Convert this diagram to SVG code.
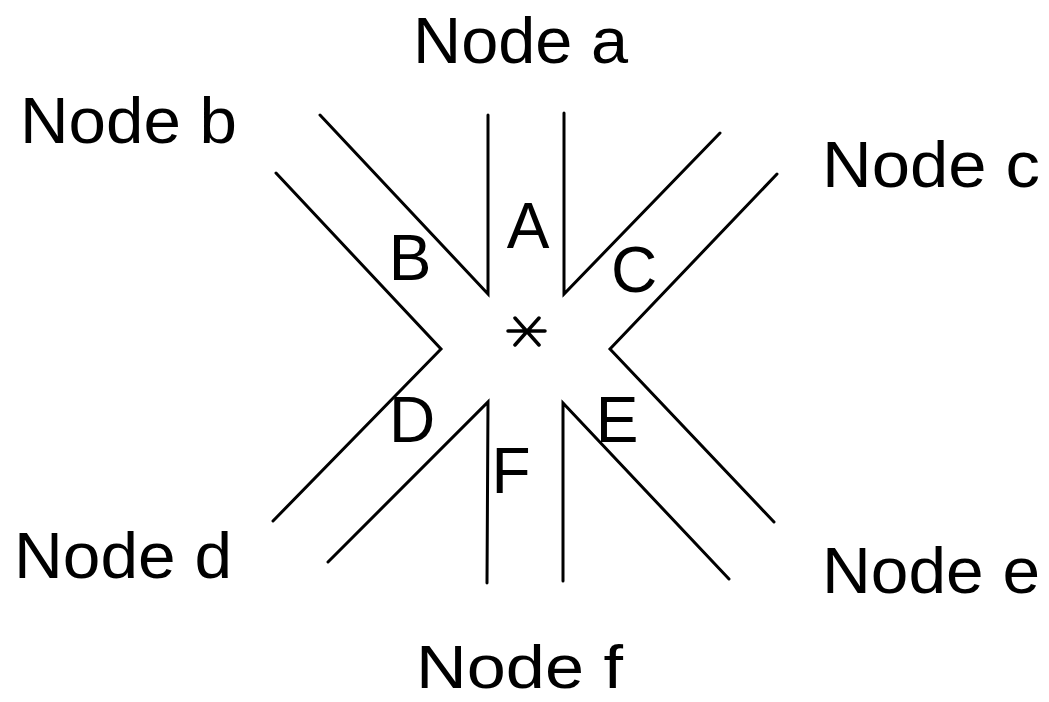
<svg xmlns="http://www.w3.org/2000/svg" width="1049" height="702" viewBox="0 0 1049 702">
<style>
.ln{fill:none;stroke:#000;stroke-width:3;stroke-linecap:round;stroke-linejoin:miter}
.nd{font-family:"Liberation Sans",Arial,sans-serif;font-size:65px;fill:#000}
.lb{font-family:"Liberation Sans",Arial,sans-serif;font-size:64px;fill:#000;text-anchor:middle}
</style>
<rect width="1049" height="702" fill="#fff"/>
<g id="connectors">
<polyline class="ln" points="320,115 488,294 488,115"/>
<polyline class="ln" points="564,113 564,294 720,133"/>
<polyline class="ln" points="276,173 441,349 273,521"/>
<polyline class="ln" points="777,174 610,349 774,522"/>
<polyline class="ln" points="328,562 488,402 487,583"/>
<polyline class="ln" points="563,581 563,403 729,579"/>
</g>
<g id="center">
<path class="ln" style="stroke-width:3.5" d="M508,331H545M515,318L539,345M539,318L515,345"/>
</g>
<g id="node-a"><text class="nd" x="413" y="63" textLength="215" lengthAdjust="spacingAndGlyphs">Node a</text></g>
<g id="node-b"><text class="nd" x="20" y="143" textLength="217" lengthAdjust="spacingAndGlyphs">Node b</text></g>
<g id="node-c"><text class="nd" x="822" y="187" textLength="218" lengthAdjust="spacingAndGlyphs">Node c</text></g>
<g id="node-d"><text class="nd" x="14" y="578" textLength="218" lengthAdjust="spacingAndGlyphs">Node d</text></g>
<g id="node-e"><text class="nd" x="822" y="593" textLength="218" lengthAdjust="spacingAndGlyphs">Node e</text></g>
<g id="node-f"><text class="nd" style="font-size:62px" x="416" y="688" textLength="207" lengthAdjust="spacingAndGlyphs">Node f</text></g>
<g id="labels">
<text class="lb" x="528" y="248">A</text>
<text class="lb" x="410" y="280">B</text>
<text class="lb" x="634" y="292">C</text>
<text class="lb" x="412" y="442">D</text>
<text class="lb" x="617" y="442">E</text>
<text class="lb" x="511" y="493">F</text>
</g>
</svg>
